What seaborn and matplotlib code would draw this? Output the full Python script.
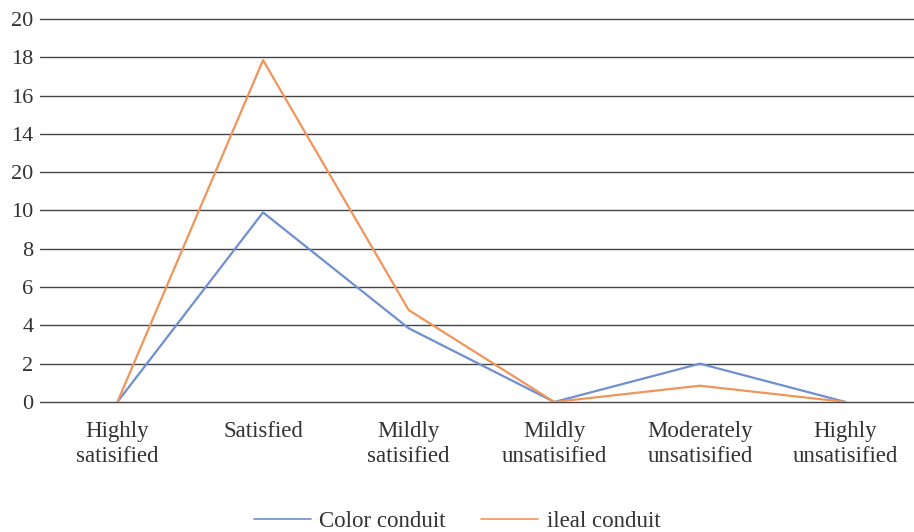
import pandas as pd
import seaborn as sns
import matplotlib.pyplot as plt

categories = ["Highly\nsatisified", "Satisfied", "Mildly\nsatisified",
              "Mildly\nunsatisified", "Moderately\nunsatisified", "Highly\nunsatisified"]
color_conduit = [0, 9.9, 3.85, 0, 2.0, 0]
ileal_conduit = [0, 17.85, 4.8, 0, 0.85, 0]
ytick_vals = [0, 2, 4, 6, 8, 10, 12, 14, 16, 18, 20]
ytick_labels = ["0", "2", "4", "6", "8", "10", "20", "14", "16", "18", "20"]

df = pd.DataFrame({
    "pos": list(range(len(categories))) * 2,
    "value": color_conduit + ileal_conduit,
    "series": ["Color conduit"] * len(categories) + ["ileal conduit"] * len(categories),
})

sns.set_style("white")
plt.rcParams["font.family"] = ["Liberation Serif", "DejaVu Serif"]

fig = plt.figure(figsize=(9.14, 5.32), dpi=100)
ax = fig.add_axes([0.044, 0.2444, 0.956, 0.7199])

palette = {"Color conduit": "#6F8FD0", "ileal conduit": "#F0955A"}
sns.lineplot(data=df, x="pos", y="value", hue="series", palette=palette,
             linewidth=1.6, ax=ax, legend=False)

ax.set_xlim(-0.53, 5.47)
ax.set_ylim(0, 20)
ax.set_yticks(ytick_vals)
ax.set_yticklabels(ytick_labels, fontsize=16, color="#333333")
ax.set_xticks(range(len(categories)))
ax.set_xticklabels(categories, fontsize=16.5, color="#333333", linespacing=1.22)
ax.tick_params(axis="x", length=0, pad=14)
ax.tick_params(axis="y", length=0, pad=5)
ax.set_xlabel("")
ax.set_ylabel("")
for s in ax.spines.values():
    s.set_visible(False)
for v in ytick_vals:
    ax.axhline(v, color="#444444", linewidth=1.0, zorder=0, clip_on=False)

handles = [plt.Line2D([], [], color=palette[k], linewidth=1.2) for k in palette]
fig.legend(handles, list(palette), loc="center", bbox_to_anchor=(0.5, 0.02),
           ncol=2, frameon=False, fontsize=16.5, handlelength=2.5,
           handletextpad=0.35, columnspacing=1.55, labelcolor="#333333")

plt.savefig("out.png", dpi=100)
